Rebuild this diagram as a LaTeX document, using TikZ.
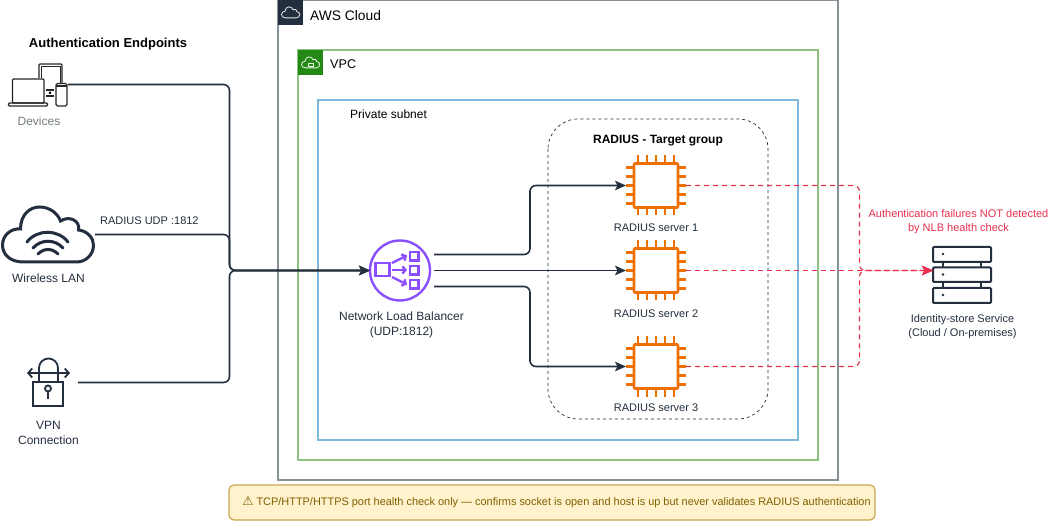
\documentclass[tikz,border=0pt]{standalone}
\usepackage{fontspec}
\setmainfont{Liberation Sans}
\newfontfamily\symfont{DejaVu Sans}
\usetikzlibrary{arrows.meta}
\definecolor{awsdark}{HTML}{232F3E}
\definecolor{awsgray}{HTML}{879196}
\definecolor{vpcgreen}{HTML}{8FC382}
\definecolor{vpcdark}{HTML}{248814}
\definecolor{subblue}{HTML}{7FB9DC}
\definecolor{nlbpurple}{HTML}{8C4FFF}
\definecolor{chiporange}{HTML}{ED7100}
\definecolor{failred}{HTML}{E7304F}
\definecolor{notefill}{HTML}{FFF2CC}
\definecolor{notedraw}{HTML}{C9A94F}
\definecolor{notetext}{HTML}{7F6000}
\tikzset{>={Stealth[length=11pt,width=9.5pt,inset=2.5pt]}}
\tikzset{link/.style={->,draw=awsdark,line width=1.6pt,rounded corners=6pt}}
\tikzset{faillink/.style={->,draw=failred,line width=1.2pt,rounded corners=6pt,dash pattern=on 5pt off 4pt}}
\tikzset{lbl/.style={align=center,inner sep=0pt,text=awsdark,font=\fontsize{11}{14}\selectfont}}
\tikzset{lblb/.style={lbl,font=\fontsize{12}{15}\selectfont}}
\tikzset{iconbox/.style={inner sep=0pt,outer sep=0pt}}
\tikzset{cloudicon/.pic={
    \draw (-24,27) .. controls (-38,27) and (-45,19) .. (-45,10)
      .. controls (-45,0) and (-36,-7) .. (-27,-6)
      .. controls (-27,-20) and (-18,-28) .. (-8,-28)
      .. controls (2,-28) and (10,-22) .. (13,-14)
      .. controls (22,-20) and (33,-14) .. (31,-5)
      .. controls (40,-4) and (46,3) .. (46,10)
      .. controls (46,20) and (38,27) .. (29,27) -- cycle;
}}
\tikzset{chipicon/.pic={
    \draw[chiporange,line width=2.6pt,rounded corners=1pt] (-22,-22) rectangle (22,22);
    \foreach \p in {-18,-9,0,9,18} {
        \draw[chiporange,line width=2.6pt] (\p,-22) -- (\p,-30);
        \draw[chiporange,line width=2.6pt] (\p,22) -- (\p,30);
        \draw[chiporange,line width=2.6pt] (-22,\p) -- (-30,\p);
        \draw[chiporange,line width=2.6pt] (22,\p) -- (30,\p);
    }
}}

\begin{document}
\begin{tikzpicture}[x=1pt,y=-1pt]
    \useasboundingbox[fill=white] (0,0) rectangle (1050,521);

    % boxes
    \draw[awsgray,line width=2pt] (278,0) rectangle (838,480);
    \fill[awsdark] (278,0) rectangle (303,25);
    \pic[draw=white!80!awsgray,line width=.8pt,scale=.2] at (290.5,12.5) {cloudicon};
    \node[lbl,anchor=west,font=\fontsize{13.8}{16}\selectfont,text=black] (awslbl) at (310,15.5) {AWS Cloud};

    \draw[vpcgreen,line width=2pt] (298,50) rectangle (818,460);
    \fill[vpcdark] (298,50) rectangle (323,75);
    \pic[draw=white!80!vpcgreen,line width=.8pt,scale=.2] at (310.5,62.5) {cloudicon};
    \draw[white!80!vpcgreen,line width=.6pt] (308,66.5) rectangle (313,63.5);
    \node[lbl,anchor=west,font=\fontsize{12.6}{15}\selectfont,text=black] (vpclbl) at (330,64.5) {VPC};

    \draw[subblue,line width=2pt] (318,100) rectangle (798,440);
    \node[lblb,anchor=west,text=black] (sublbl) at (350,114) {Private subnet};

    \draw[awsdark,dashed,line width=.7pt,rounded corners=30pt] (548,119) rectangle (768,419);
    \node[lblb,text=black,font=\bfseries\fontsize{12}{15}\selectfont] (grouplbl) at (658,141) {RADIUS - Target group};

    % endpoints
    \node[lblb,text=black,font=\bfseries\fontsize{13}{15}\selectfont] (eplbl) at (108,44) {Authentication Endpoints};

    \node[iconbox,minimum width=60pt,minimum height=42pt] (devices) at (38,84.5) {};
    \begin{scope}[draw=black!85,line width=1.4pt]
        \draw[rounded corners=1pt] (12.5,79) rectangle (44,103);
        \draw[rounded corners=1pt] (8.5,103) rectangle (47.5,106);
        \draw[rounded corners=1pt] (39,78) -- (39,64) -- (62,64) -- (62,83);
        \draw[line width=.8pt] (41,78) -- (41,66.5) -- (60,66.5) -- (60,83);
        \draw[rounded corners=1.5pt] (56,83.5) rectangle (67,106);
        \draw (56,86) -- (67,86);
        \draw (46,90) -- (54,90) (46,96) -- (54,96);
        \fill (50,93) circle (1.5pt);
    \end{scope}
    \node[lblb,text=awsgray!85!black] (devlbl) at (39,121) {Devices};

    \node[iconbox,minimum width=95pt,minimum height=56pt] (wlan) at (47.5,234.5) {};
    \pic[draw=awsdark,line width=3pt] at (47.5,235) {cloudicon};
    \draw[awsdark,line width=3pt,line cap=round] (27,242) .. controls (37,229) and (58,229) .. (68,242);
    \draw[awsdark,line width=3pt,line cap=round] (33,248) .. controls (41,239) and (55,239) .. (63,248);
    \draw[awsdark,line width=3pt,line cap=round] (38,254) .. controls (44,248) and (52,248) .. (58,254);
    \node[lblb] (wlanlbl) at (48.5,278) {Wireless LAN};
    \node[lbl,anchor=west] (udplbl) at (100,221) {RADIUS UDP :1812};

    \node[iconbox,minimum width=60pt,minimum height=48pt] (vpn) at (48,382.5) {};
    \begin{scope}[draw=awsdark,line width=1.8pt]
        \draw (33,382) rectangle (63,406);
        \draw (39,382) -- (39,368) arc[start angle=180,end angle=0,radius=9.5pt] -- (58,382);
        \draw[{Straight Barb[length=4pt,width=9pt]}-{Straight Barb[length=4pt,width=9pt]}] (27,373) -- (70,373);
        \draw (48,388.5) circle (3pt);
        \draw (48,391.5) -- (48,398.5);
    \end{scope}
    \node[lblb] (vpnlbl) at (48.5,433) {VPN\\Connection};

    % load balancer
    \node[iconbox,circle,draw=nlbpurple,line width=2.4pt,minimum size=60pt] (nlb) at (400,270.5) {};
    \begin{scope}[draw=nlbpurple,line width=2.4pt]
        \draw (375.5,263) rectangle (389.5,276);
        \draw (410,252) rectangle (418.5,260.5);
        \draw (410,266) rectangle (418.5,274.5);
        \draw (410,280) rectangle (418.5,288.5);
        \draw[-{Straight Barb[length=3pt,width=7pt]}] (392,263) -- (407,255.5);
        \draw[-{Straight Barb[length=3pt,width=7pt]}] (392,270) -- (407,270);
        \draw[-{Straight Barb[length=3pt,width=7pt]}] (392,277) -- (407,284.5);
    \end{scope}
    \node[lblb] (nlblbl) at (401.5,325) {Network Load Balancer\\(UDP:1812)};

    % servers
    \node[iconbox,minimum size=60pt] (chip1) at (656,185.5) {};
    \node[iconbox,minimum size=60pt] (chip2) at (656,270.5) {};
    \node[iconbox,minimum size=60pt] (chip3) at (656,366.5) {};
    \pic at (chip1) {chipicon};
    \pic at (chip2) {chipicon};
    \pic at (chip3) {chipicon};
    \node[lbl] (chip1lbl) at (656,228) {RADIUS server 1};
    \node[lbl] (chip2lbl) at (656,314) {RADIUS server 2};
    \node[lbl] (chip3lbl) at (656,408) {RADIUS server 3};

    % identity store
    \node[iconbox,minimum width=58pt,minimum height=56pt] (store) at (962,270.5) {};
    \begin{scope}[draw=awsdark,line width=2pt]
        \draw[rounded corners=1pt] (933,247) rectangle (991,262);
        \draw[rounded corners=1pt] (933,267.5) rectangle (991,282);
        \draw[rounded corners=1pt] (933,288) rectangle (991,303);
        \draw (943,262) -- (943,267.5) (981,262) -- (981,267.5);
        \draw (943,282) -- (943,288) (981,282) -- (981,288);
    \end{scope}
    \fill[awsdark] (943,254) circle (1.4pt) (943,274.5) circle (1.4pt) (943,295) circle (1.4pt);
    \node[lbl] (storelbl) at (962.5,327) {Identity-store Service\\(Cloud / On-premises)};
    \node[lbl,text=failred] (faillbl) at (958.5,221.5) {Authentication failures NOT detected\\by NLB health check};

    % note
    \node[iconbox,draw=notedraw,line width=1.2pt,fill=notefill,rounded corners=5pt,minimum width=646pt,minimum height=35pt,text=notetext,font=\fontsize{10.93}{13}\selectfont] (note) at (552,502.5) {\hspace*{9pt}{\symfont\fontsize{12.5}{13}\selectfont ⚠} TCP/HTTP/HTTPS port health check only — confirms socket is open and host is up but never validates RADIUS authentication};

    \coordinate (bus) at (229.5,270.5);
    \coordinate (lbout1) at (434,254.5);
    \coordinate (lbout2) at (434,270.5);
    \coordinate (lbout3) at (434,286.5);
    \coordinate (turn1) at (530,185.5);
    \coordinate (turn3) at (530,366.5);
    \coordinate (redbus) at (859.5,270.5);

    \draw[link] (devices.east) -| (bus) -- (nlb.west);
    \draw[link] (wlan.east) -| (bus) -- (nlb.west);
    \draw[link] (vpn.east) -| (bus) -- (nlb.west);

    \draw[link] (lbout1) -| (turn1) -- (chip1.west);
    \draw[link] (lbout2) -- (chip2.west);
    \draw[link] (lbout3) -| (turn3) -- (chip3.west);

    \draw[faillink] (chip1.east) -| (redbus) -- (store.west);
    \draw[faillink] (chip2.east) -- (store.west);
    \draw[faillink] (chip3.east) -| (redbus) -- (store.west);
\end{tikzpicture}
\end{document}
